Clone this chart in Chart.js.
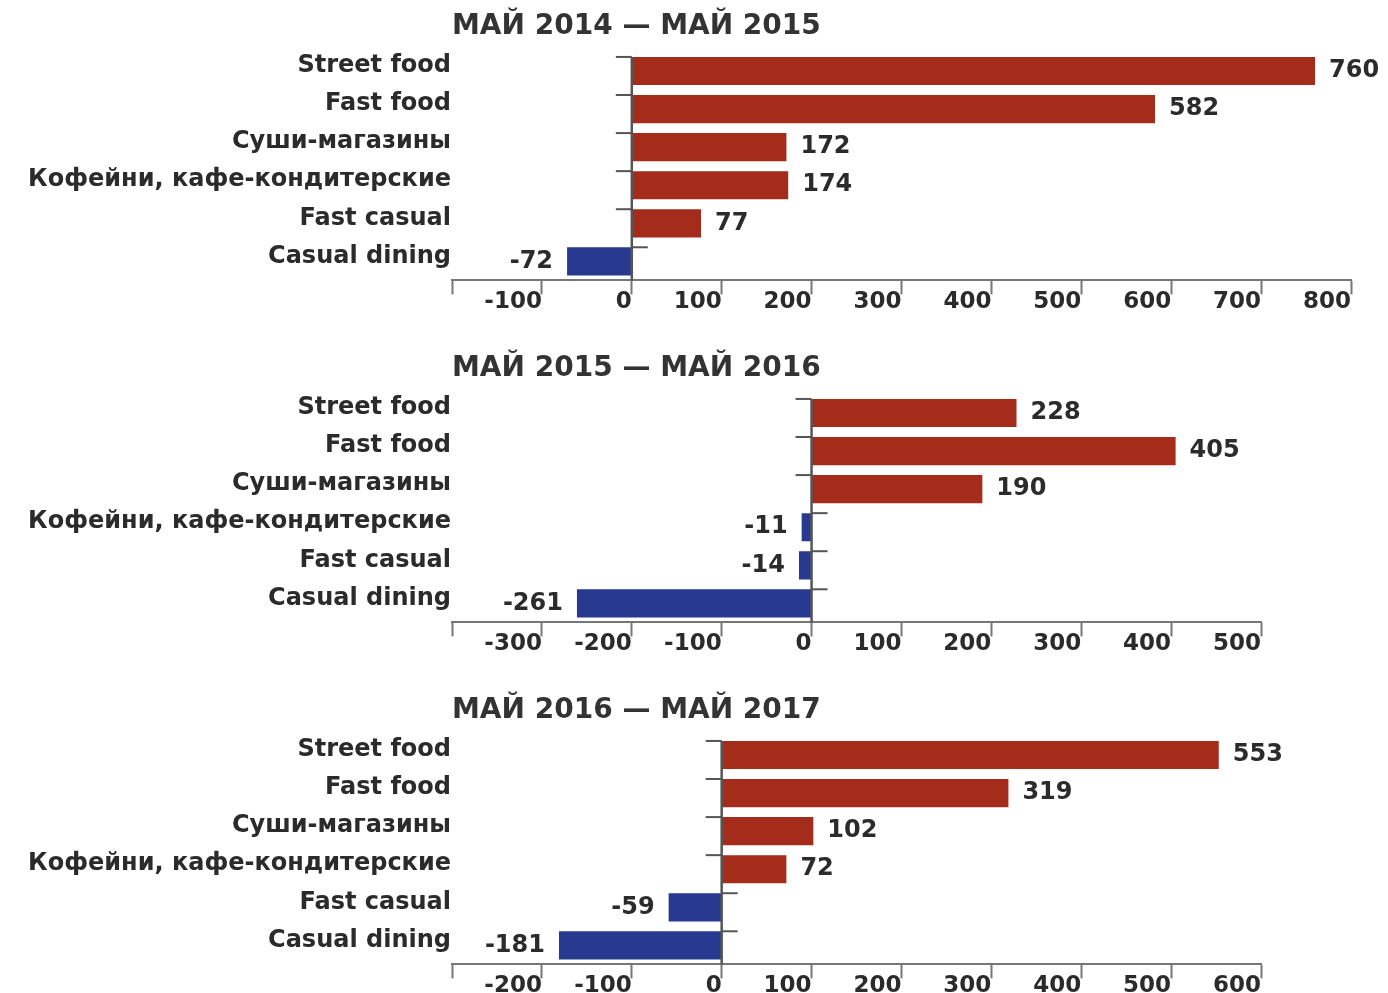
<!DOCTYPE html>
<html>
<head>
<meta charset="utf-8">
<script src="https://cdn.jsdelivr.net/npm/chart.js@4/dist/chart.umd.min.js"></script>
<style>
  body { margin: 0; background: #fff; overflow: hidden; }
  .panel { position: absolute; left: 0; }
</style>
</head>
<body>
<canvas id="chart1" class="panel" width="1388" height="342" style="top:0px"></canvas>
<canvas id="chart2" class="panel" width="1388" height="342" style="top:342px"></canvas>
<canvas id="chart3" class="panel" width="1388" height="342" style="top:684px"></canvas>
<script>
const categories = ["Street food", "Fast food", "Суши-магазины", "Кофейни, кафе-кондитерские", "Fast casual", "Casual dining"];
const periods = ["МАЙ 2014 — МАЙ 2015", "МАЙ 2015 — МАЙ 2016", "МАЙ 2016 — МАЙ 2017"];
const values2014 = [760, 582, 172, 174, 77, -72];
const values2015 = [228, 405, 190, -11, -14, -261];
const values2016 = [553, 319, 102, 72, -59, -181];
const axisMin = [-200, -400, -300];
const axisMax = [800, 500, 600];
const tickStep = 100;

const RED = "#a52b1b";
const BLUE = "#283a8f";
const TEXT = "#2b2b2b";
const FONT = "DejaVu Sans";

// value labels, zero line and the little category ticks
const markPlugin = {
    id: "marks",
    afterDatasetsDraw(chart) {
    const ctx = chart.ctx;
    const meta = chart.getDatasetMeta(0);
    const values = chart.data.datasets[0].data;
    const x0 = chart.scales.x.getPixelForValue(0);
    const area = chart.chartArea;
    ctx.save();
    ctx.strokeStyle = "#555";
    ctx.lineWidth = 2.5;
    ctx.beginPath();
    ctx.moveTo(x0, meta.data[0].y - meta.data[0].height / 2);
    ctx.lineTo(x0, area.bottom);
    ctx.stroke();
    ctx.lineWidth = 2;
    meta.data.forEach((bar, i) => {
        const top = bar.y - bar.height / 2;
        ctx.beginPath();
        if (values[i] >= 0) {
        ctx.moveTo(x0 - 16, top);
        } else {
        ctx.moveTo(x0 + 16, top);
        }
        ctx.lineTo(x0, top);
        ctx.stroke();
    });
    ctx.font = "bold 24px '" + FONT + "'";
    ctx.fillStyle = TEXT;
    ctx.textBaseline = "middle";
    meta.data.forEach((bar, i) => {
        const v = values[i];
        if (v >= 0) {
        ctx.textAlign = "left";
        ctx.fillText(String(v), bar.x + 14, bar.y);
        } else {
        ctx.textAlign = "right";
        ctx.fillText(String(v), bar.x - 14, bar.y);
        }
    });
    ctx.restore();
    }
};

function drawPanel(id, title, values, min, max, rightEdge) {
    const ctx = document.getElementById(id).getContext("2d");
    return new Chart(ctx, {
    type: "bar",
    data: {
        labels: categories,
        datasets: [{
        data: values,
        backgroundColor: values.map(v => v >= 0 ? RED : BLUE),
        barPercentage: 0.74,
        categoryPercentage: 1
        }]
    },
    options: {
        responsive: false,
        animation: false,
        indexAxis: "y",
        layout: { padding: { left: 0, top: 0, right: 1388 - rightEdge, bottom: 32 } },
        plugins: {
        legend: { display: false },
        tooltip: { enabled: false },
        title: {
            display: true,
            text: title,
            fullSize: false,
            align: "start",
            color: "#333",
            font: { family: FONT, size: 28, weight: "bold" },
            padding: { top: 10, bottom: 8.4 }
        }
        },
        scales: {
        x: {
            min: min,
            max: max,
            ticks: {
            stepSize: tickStep,
            align: "end",
            padding: -6,
            color: TEXT,
            font: { family: FONT, size: 23, weight: "bold" },
            callback: v => v === min ? "" : String(v)
            },
            grid: { drawOnChartArea: false, tickLength: 14, tickWidth: 2, tickColor: "#777" },
            border: { color: "#777", width: 2 }
        },
        y: {
            grid: { display: false, drawTicks: false },
            border: { display: false },
            ticks: {
            padding: 1,
            labelOffset: -5,
            color: TEXT,
            font: { family: FONT, size: 24, weight: "bold" }
            },
            afterFit: scale => { scale.width = 452; }
        }
        }
    },
    plugins: [markPlugin]
    });
}

drawPanel("chart1", periods[0], values2014, axisMin[0], axisMax[0], 1351);
drawPanel("chart2", periods[1], values2015, axisMin[1], axisMax[1], 1261);
drawPanel("chart3", periods[2], values2016, axisMin[2], axisMax[2], 1261);
</script>
</body>
</html>
